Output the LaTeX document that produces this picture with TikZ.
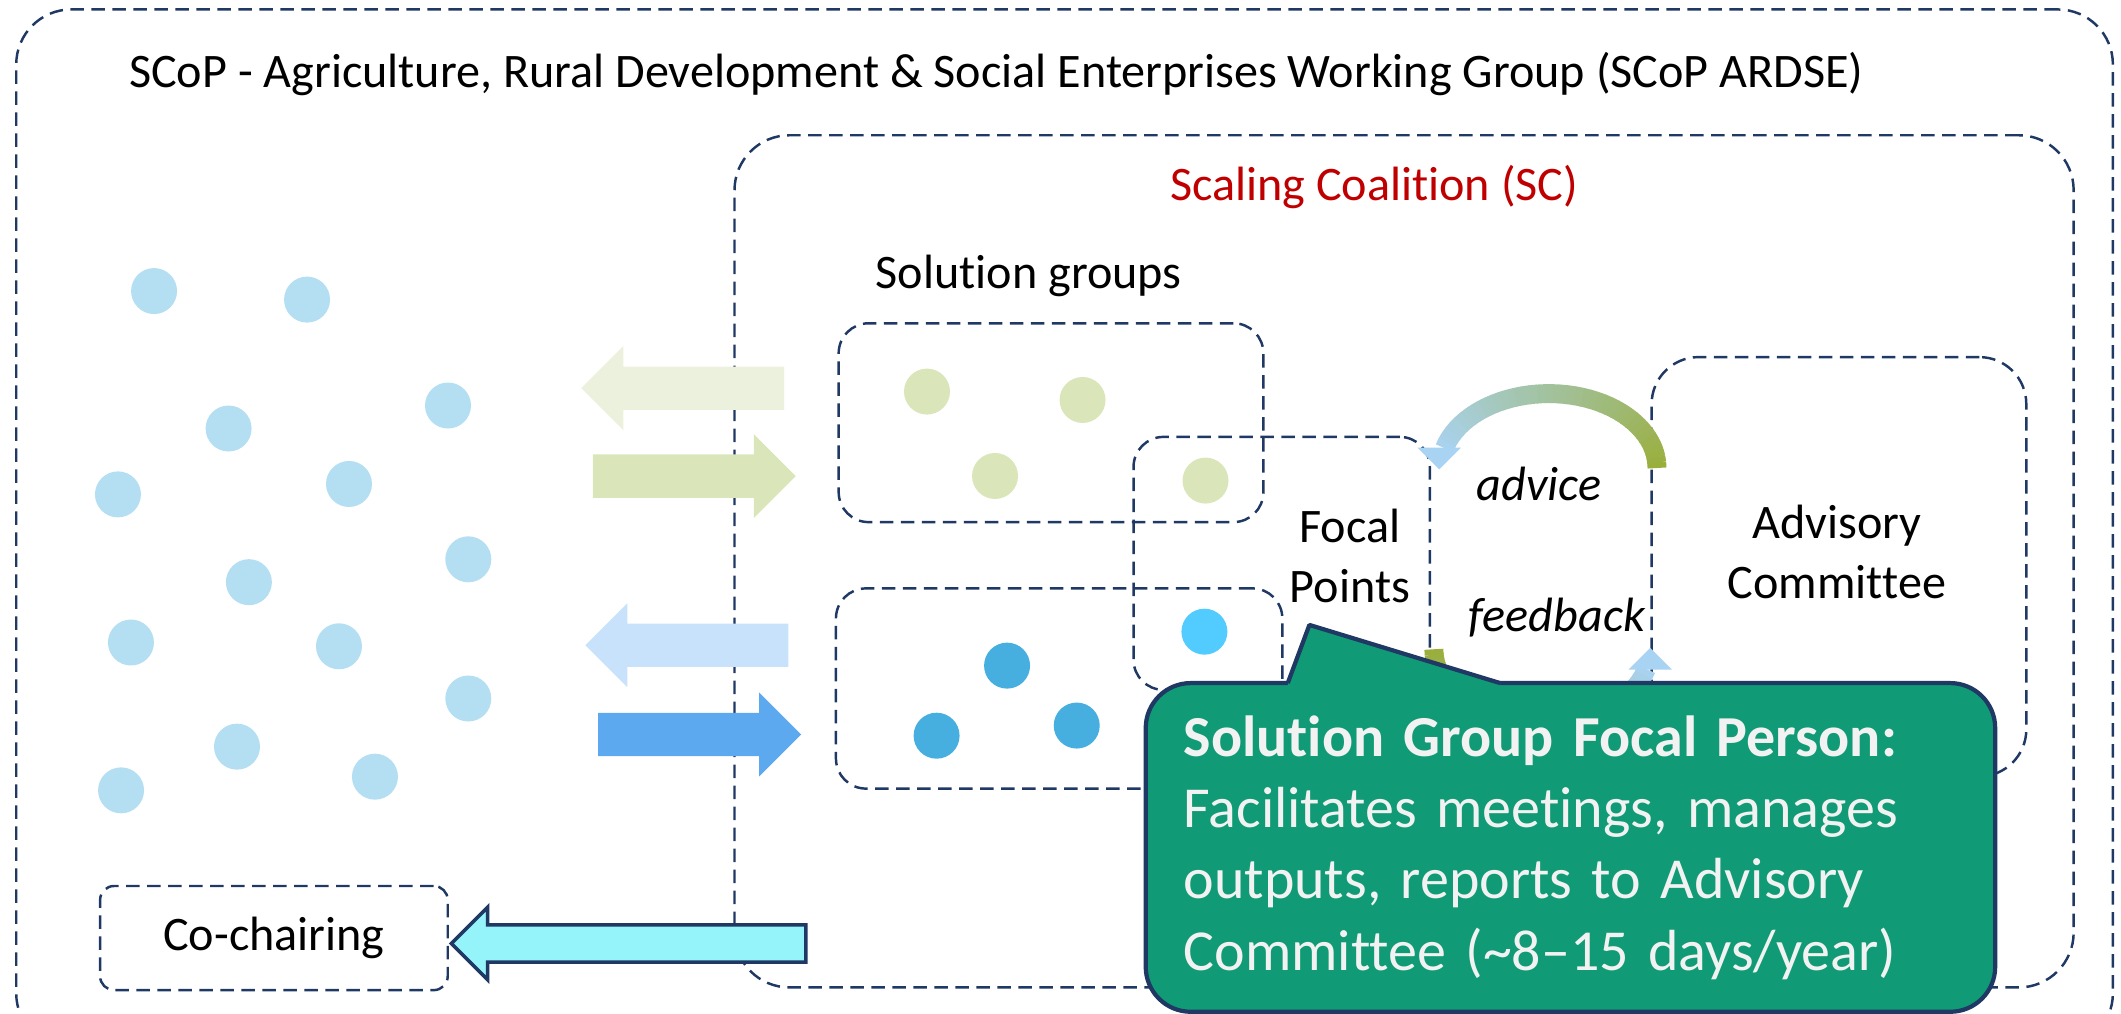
\documentclass[tikz,border=0pt]{standalone}
\usepackage{fontspec}
\setmainfont{Carlito}[Ligatures=NoCommon]
\usetikzlibrary{shapes.arrows}

\newlength\dpx
\setlength\dpx{0.13527mm}

\definecolor{navy}{HTML}{1F3864}
\definecolor{scred}{HTML}{C00000}
\definecolor{crowd}{HTML}{B4DEF2}
\definecolor{sgreen}{HTML}{DAE6BA}
\definecolor{sgreenl}{HTML}{EBF1DC}
\definecolor{sblue}{HTML}{47AFE0}
\definecolor{scyan}{HTML}{52CCFF}
\definecolor{sbluel}{HTML}{C7E2FA}
\definecolor{sbluem}{HTML}{5CA9F0}
\definecolor{chair}{HTML}{95F3FA}
\definecolor{arrblue}{HTML}{A9D3F2}
\definecolor{arrolive}{HTML}{9AAE3C}
\definecolor{bubblefill}{HTML}{109B76}
\definecolor{bubbletext}{HTML}{F2F2F2}

\begin{document}
\begin{tikzpicture}[x=\dpx, y=\dpx,
    font=\fontsize{13.7}{16.9}\selectfont,
    grp/.style={draw=navy, line width=0.7pt, dash pattern=on 1.35mm off 0.75mm, rounded corners=#1},
    grp/.default=3mm,
    lbl/.style={inner sep=0pt},
    dot/.style={circle, fill=#1, minimum size=34\dpx, inner sep=0pt},
    fat/.style={single arrow, fill=#1, inner xsep=0pt, inner ysep=15.5\dpx, anchor=tip,
        minimum height=150\dpx, single arrow head extend=15\dpx},
    bubble/.style={draw=navy, line width=1.2pt, fill=bubblefill, rounded corners=4.5mm,
        text=bubbletext, minimum height=243\dpx, text width=572\dpx, inner xsep=28\dpx,
        align=left, font=\fontsize{16.5}{20.3}\selectfont}]

\useasboundingbox (0,0) rectangle (1568,749);

% frames
\node[grp=5.5mm, minimum width=1550\dpx, minimum height=768\dpx] (scop) at (787,358) {};
\node[lbl, anchor=base west] (scoptitle) at (95,684)
    {SCoP - Agriculture, Rural Development \& Social Enterprises Working Group (SCoP ARDSE)};

\node[grp=5.5mm, minimum width=990\dpx, minimum height=630\dpx] (sc) at (1038,334) {};
\node[lbl, anchor=base, text=scred] (sctitle) at (1016,601) {Scaling Coalition (SC)};
\node[lbl, anchor=base west] (sgtitle) at (647,536) {Solution groups};

\node[grp, minimum width=314\dpx, minimum height=147\dpx] (sg1) at (777,436.5) {};
\node[grp, minimum width=330\dpx, minimum height=148\dpx] (sg2) at (783,240) {};
\node[grp, minimum width=219\dpx, minimum height=187\dpx] (focal) at (947.5,332.5) {};
\node[grp=4.7mm, minimum width=277\dpx, minimum height=310\dpx] (adv) at (1359.5,330) {};

\node[align=center] (focaltxt) at (998,338) {Focal\\Points};
\node[align=center] (advtxt) at (1358,341) {Advisory\\Committee};

% members
\foreach \x/\y [count=\i] in {113.9/533.8, 227/527.5, 169/432.2, 331.2/449.2, 87.2/383.5,
    258/391.2, 184/318.6, 346.2/335.5, 96.8/274, 250.6/271.2, 346.2/232.6, 175.2/197,
    277.2/174.8, 89.5/164.7}
    \node[dot=crowd] (crowd\i) at (\x,\y) {};

\foreach \x/\y [count=\i] in {685.3/459.5, 800.3/453.3, 735.6/397.1, 891.2/393.7}
    \node[dot=sgreen] (green\i) at (\x,\y) {};

\node[dot=scyan] (focalblue) at (890.4,282) {};
\foreach \x/\y [count=\i] in {744.5/256.9, 692.4/205.1, 796/212.6}
    \node[dot=sblue] (blue\i) at (\x,\y) {};

% exchange arrows
\node[fat=sgreenl, rotate=180] (sg1out) at (429,462) {};
\node[fat=sgreen] (sg1in) at (589,397) {};
\node[fat=sbluel, rotate=180] (sg2out) at (432,272) {};
\node[fat=sbluem] (sg2in) at (593,206) {};

\node[grp=1.4mm, minimum width=257\dpx, minimum height=77\dpx] (cochair) at (202.5,55.5) {Co-chairing};
\node[fat=chair, draw=navy, line width=1pt, rotate=180, minimum height=262\dpx,
    inner ysep=12.5\dpx, single arrow head extend=13\dpx] (chairarrow) at ([yshift=-4\dpx]cochair.east) {};

% advice / feedback loop
\begin{scope}[shift={(1145,403)}]
    \foreach \a in {0,4,...,160}{
        \pgfmathsetmacro\mix{\a/1.64}
        \pgfmathsetmacro\b{\a+4.5}
        \draw[line width=14\dpx, arrblue!\mix!arrolive] (\a:80 and 55)
            arc[start angle=\a, end angle=\b, x radius=80, y radius=55];
    }
    \fill[arrblue] (-97,15) -- (-65,15) -- (-81,-1) -- cycle;
\end{scope}
\begin{scope}[shift={(1140,269)}]
    \foreach \a in {180,184,...,340}{
        \pgfmathsetmacro\mix{(\a-180)/1.64}
        \pgfmathsetmacro\b{\a+4.5}
        \draw[line width=14\dpx, arrblue!\mix!arrolive] (\a:80 and 55)
            arc[start angle=\a, end angle=\b, x radius=80, y radius=55];
    }
    \fill[arrblue] (64,-15) -- (96,-15) -- (80,1) -- cycle;
\end{scope}

\node[lbl, anchor=base] (advice) at (1138,379) {\itshape advice};
\node[lbl, anchor=base] (feedback) at (1151,282) {\itshape feedback};

% callout
\node[bubble] (focalperson) at (1161,122.5)
    {\textbf{Solution Group Focal Person:}\\Facilitates meetings, manages\\outputs, reports to Advisory\\Committee (\textasciitilde8–15 days/year)};
\fill[bubblefill] (952,241) -- (952,244) -- (968,287) -- (1109,244) -- (1109,241) -- cycle;
\draw[navy, line width=1.2pt, line join=round] (952,244) -- (968,287) -- (1109,244);

\end{tikzpicture}
\end{document}
